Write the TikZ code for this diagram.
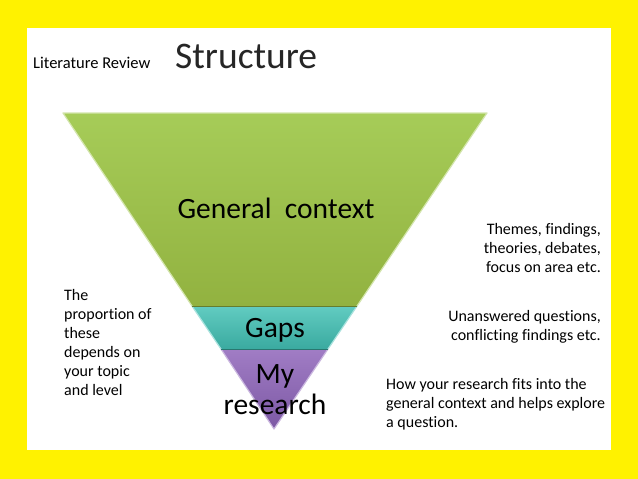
\documentclass[tikz,border=0pt]{standalone}
\usepackage{fontspec}
\setmainfont[Ligatures=CommonOff]{Carlito}
\usetikzlibrary{positioning}

\definecolor{ctxgreen}{RGB}{166,204,88}
\definecolor{ctxgreendk}{RGB}{146,178,64}
\definecolor{gapteal}{RGB}{80,198,186}
\definecolor{gaptealdk}{RGB}{58,170,160}
\definecolor{resviolet}{RGB}{150,110,190}
\definecolor{resvioletdk}{RGB}{124,88,164}

\begin{document}
\begin{tikzpicture}[x=1pt,y=-1pt,
  bandlabel/.style={font=\fontsize{29.5}{31}\selectfont, align=center, inner sep=0pt, anchor=base},
  note/.style={font=\fontsize{16}{19}\selectfont, inner sep=0pt},
  bevel/.style={line width=1.2pt, line cap=round, line join=round}]
\useasboundingbox (0,0) rectangle (638,479);
% Yellow frame round the slide
\fill[yellow] (0,0) rectangle (638,479);
\fill[white] (27,28) rectangle (611,450);

% Corners of the inverted triangle and its bands
\coordinate (tl) at (63,113);
\coordinate (tr) at (487,113);
\coordinate (gl) at (192,306);
\coordinate (gr) at (357,306);
\coordinate (rl) at (221,349);
\coordinate (rr) at (328,349);
\coordinate (apex) at (274,429);

% Bands, a little darker at the bottom
\shade[top color=ctxgreen, bottom color=ctxgreendk] (tl) -- (tr) -- (gr) -- (gl) -- cycle;
\shade[top color=gapteal!90!white, bottom color=gaptealdk] (gl) -- (gr) -- (rr) -- (rl) -- cycle;
\shade[top color=resviolet!90!white, bottom color=resvioletdk] (rl) -- (rr) -- (apex) -- cycle;

% Light edges and dark seams
\draw[bevel, white!50!ctxgreen] (gl) -- (tl) -- (tr) -- (gr);
\draw[bevel, white!50!gapteal] (rl) -- (gl) (gr) -- (rr);
\draw[bevel, white!50!resviolet] (apex) -- (rl) (rr) -- (apex);
\draw[line width=1pt, ctxgreendk!70!black] (gl) -- (gr);
\draw[line width=1pt, gaptealdk!70!black] (rl) -- (rr);

% Titles
\node[font=\fontsize{16.5}{18}\selectfont, anchor=base west, inner sep=0pt] (subtitle) at (33,68) {Literature Review};
\node[font=\fontsize{37.5}{40}\selectfont, anchor=base west, inner sep=0pt, text=black!85] (title) at (175,68) {Structure};

% Band labels (base = last line)
\node[bandlabel] (context) at (276,218) {General\ \ context};
\node[bandlabel] (gaps) at (275,337) {Gaps};
\node[bandlabel] (myres) at (275,414) {My\\research};

% Notes beside the triangle
\node[note, align=left, anchor=base west] (proportion) at (64,395) {The\\proportion of\\these\\depends on\\your topic\\and level};
\node[note, align=right, anchor=base east] (themes) at (601,272) {Themes, findings,\\theories, debates,\\focus on area etc.};
\node[note, align=right, anchor=base east] (unanswered) at (601,340) {Unanswered questions,\\conflicting findings etc.};
\node[note, align=left, anchor=base west] (howfits) at (386,427) {How your research fits into the\\general context and helps explore\\a question.};
\end{tikzpicture}
\end{document}
